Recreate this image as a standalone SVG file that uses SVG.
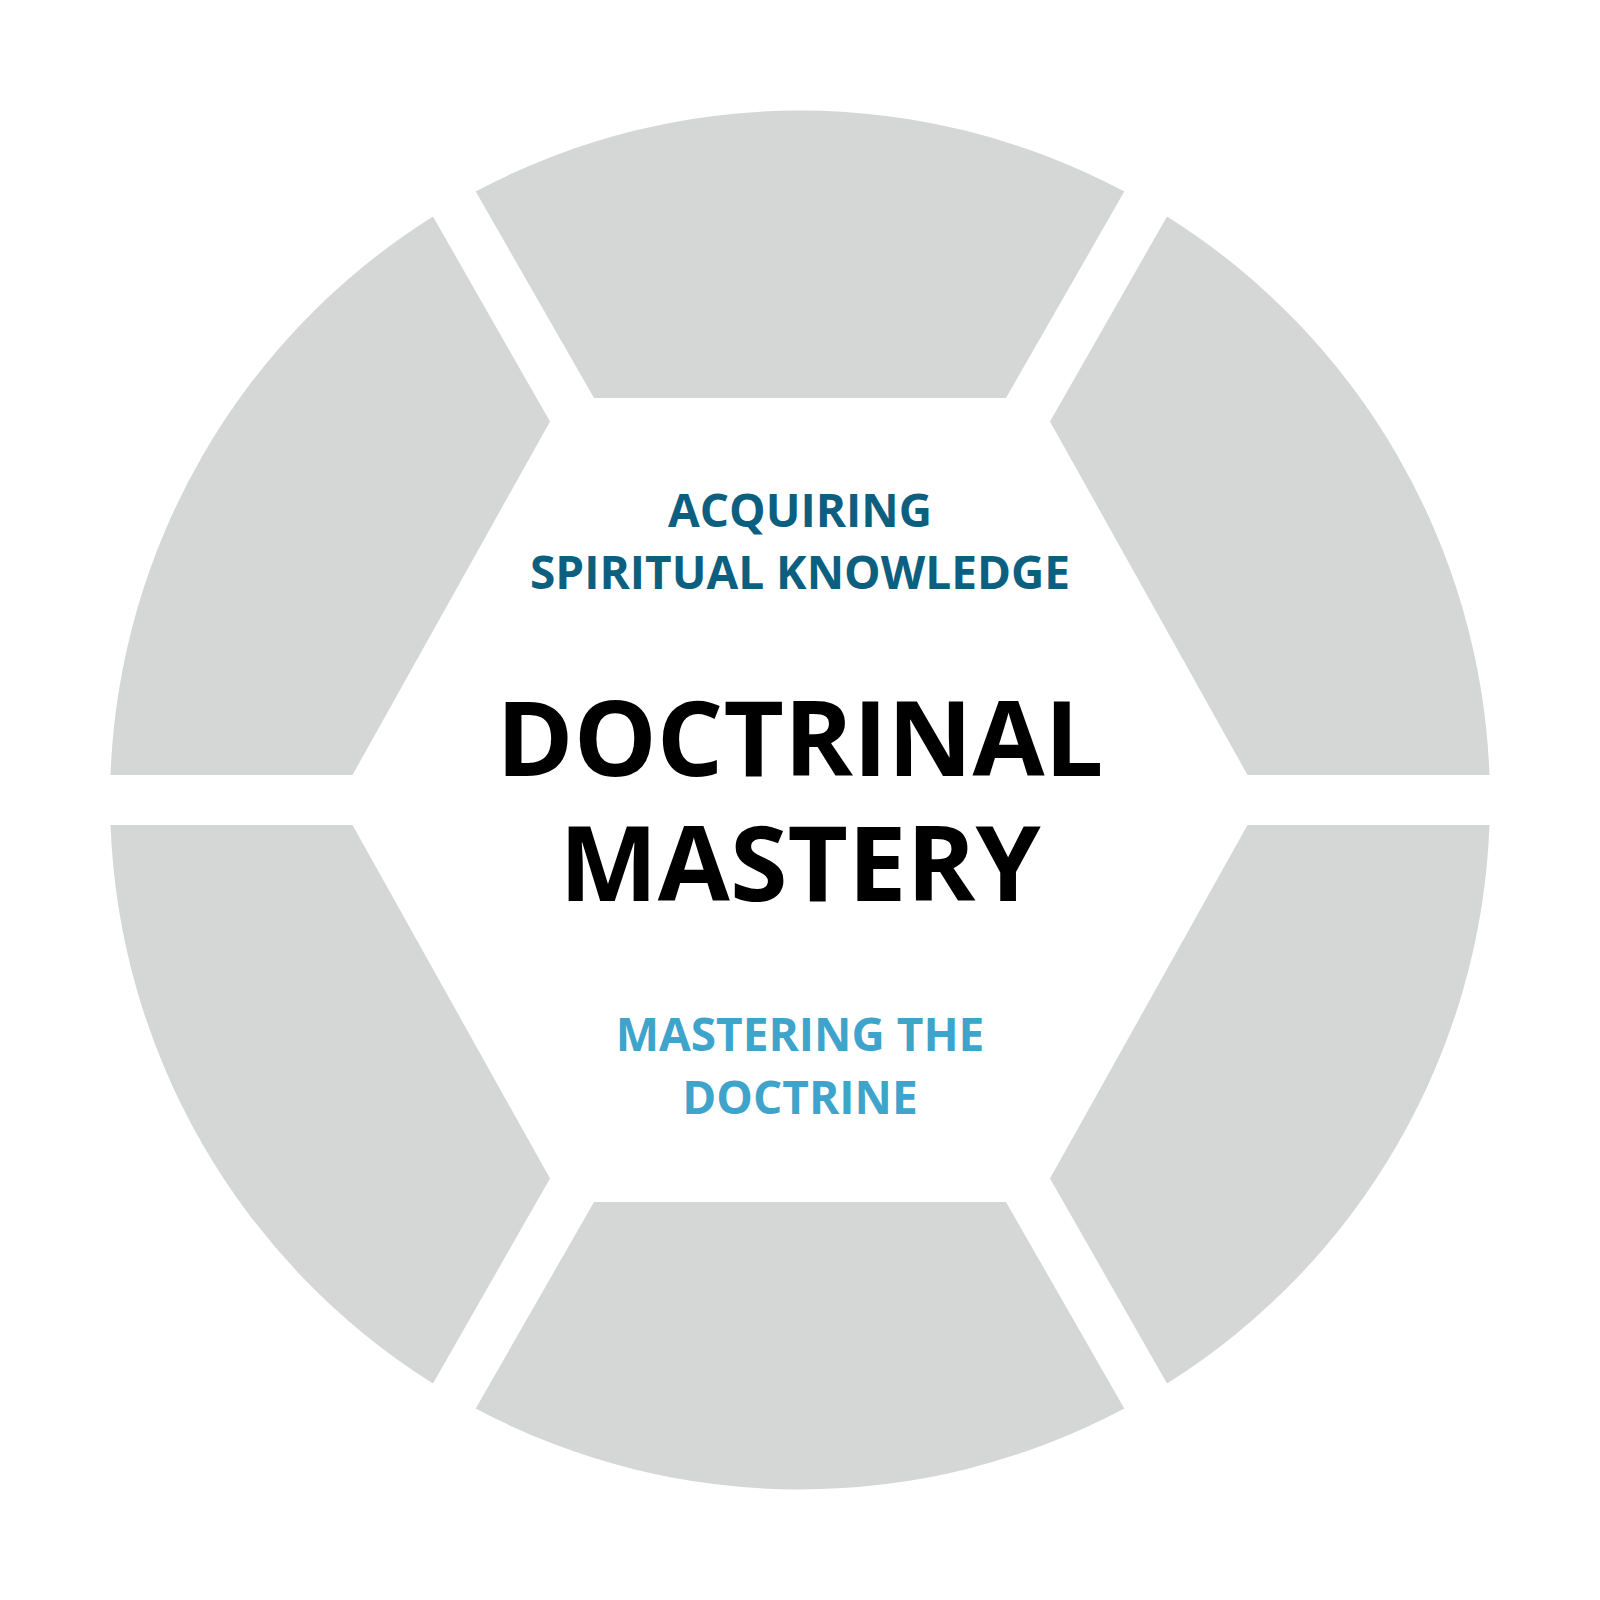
<svg xmlns="http://www.w3.org/2000/svg" width="1600" height="1600" viewBox="0 0 1600 1600">
<defs>
<style>
.seg{fill:#d5d7d6;}
.t{font-family:"Open Sans","Liberation Sans",sans-serif;font-weight:700;text-anchor:middle;}
.top{fill:#0d5f7f;font-size:46px;}
.main{fill:#000000;font-size:104.5px;}
.bot{fill:#3fa4cc;font-size:46px;}
</style>
</defs>
<rect width="1600" height="1600" fill="#ffffff"/>
<g id="seg-top"><path class="seg" d="M475.7 191.5 A690 690 0 0 1 1124.3 191.5 L1006 398 L594 398 Z"/></g>
<g id="seg-upper-right"><path class="seg" d="M1167 216.5 L1050 421.5 L1247.5 775 L1489.5 775 A690 690 0 0 0 1167 216.5 Z"/></g>
<g id="seg-lower-right"><path class="seg" d="M1167 1383.5 L1050 1178.5 L1247.5 825 L1489.5 825 A690 690 0 0 1 1167 1383.5 Z"/></g>
<g id="seg-bottom"><path class="seg" d="M475.7 1408.5 A690 690 0 0 0 1124.3 1408.5 L1006 1202 L594 1202 Z"/></g>
<g id="seg-lower-left"><path class="seg" d="M433 1383.5 L550 1178.5 L352.5 825 L110.5 825 A690 690 0 0 0 433 1383.5 Z"/></g>
<g id="seg-upper-left"><path class="seg" d="M433 216.5 L550 421.5 L352.5 775 L110.5 775 A690 690 0 0 1 433 216.5 Z"/></g>
<g id="connectors"></g>
<g id="label-acquiring">
<text class="t top" x="800" y="527">ACQUIRING</text>
<text class="t top" x="800" y="588.5">SPIRITUAL KNOWLEDGE</text>
</g>
<g id="label-doctrinal-mastery">
<text class="t main" x="800" y="775.5">DOCTRINAL</text>
<text class="t main" x="800" y="901">MASTERY</text>
</g>
<g id="label-mastering">
<text class="t bot" x="800" y="1051">MASTERING THE</text>
<text class="t bot" x="800" y="1114">DOCTRINE</text>
</g>
</svg>
